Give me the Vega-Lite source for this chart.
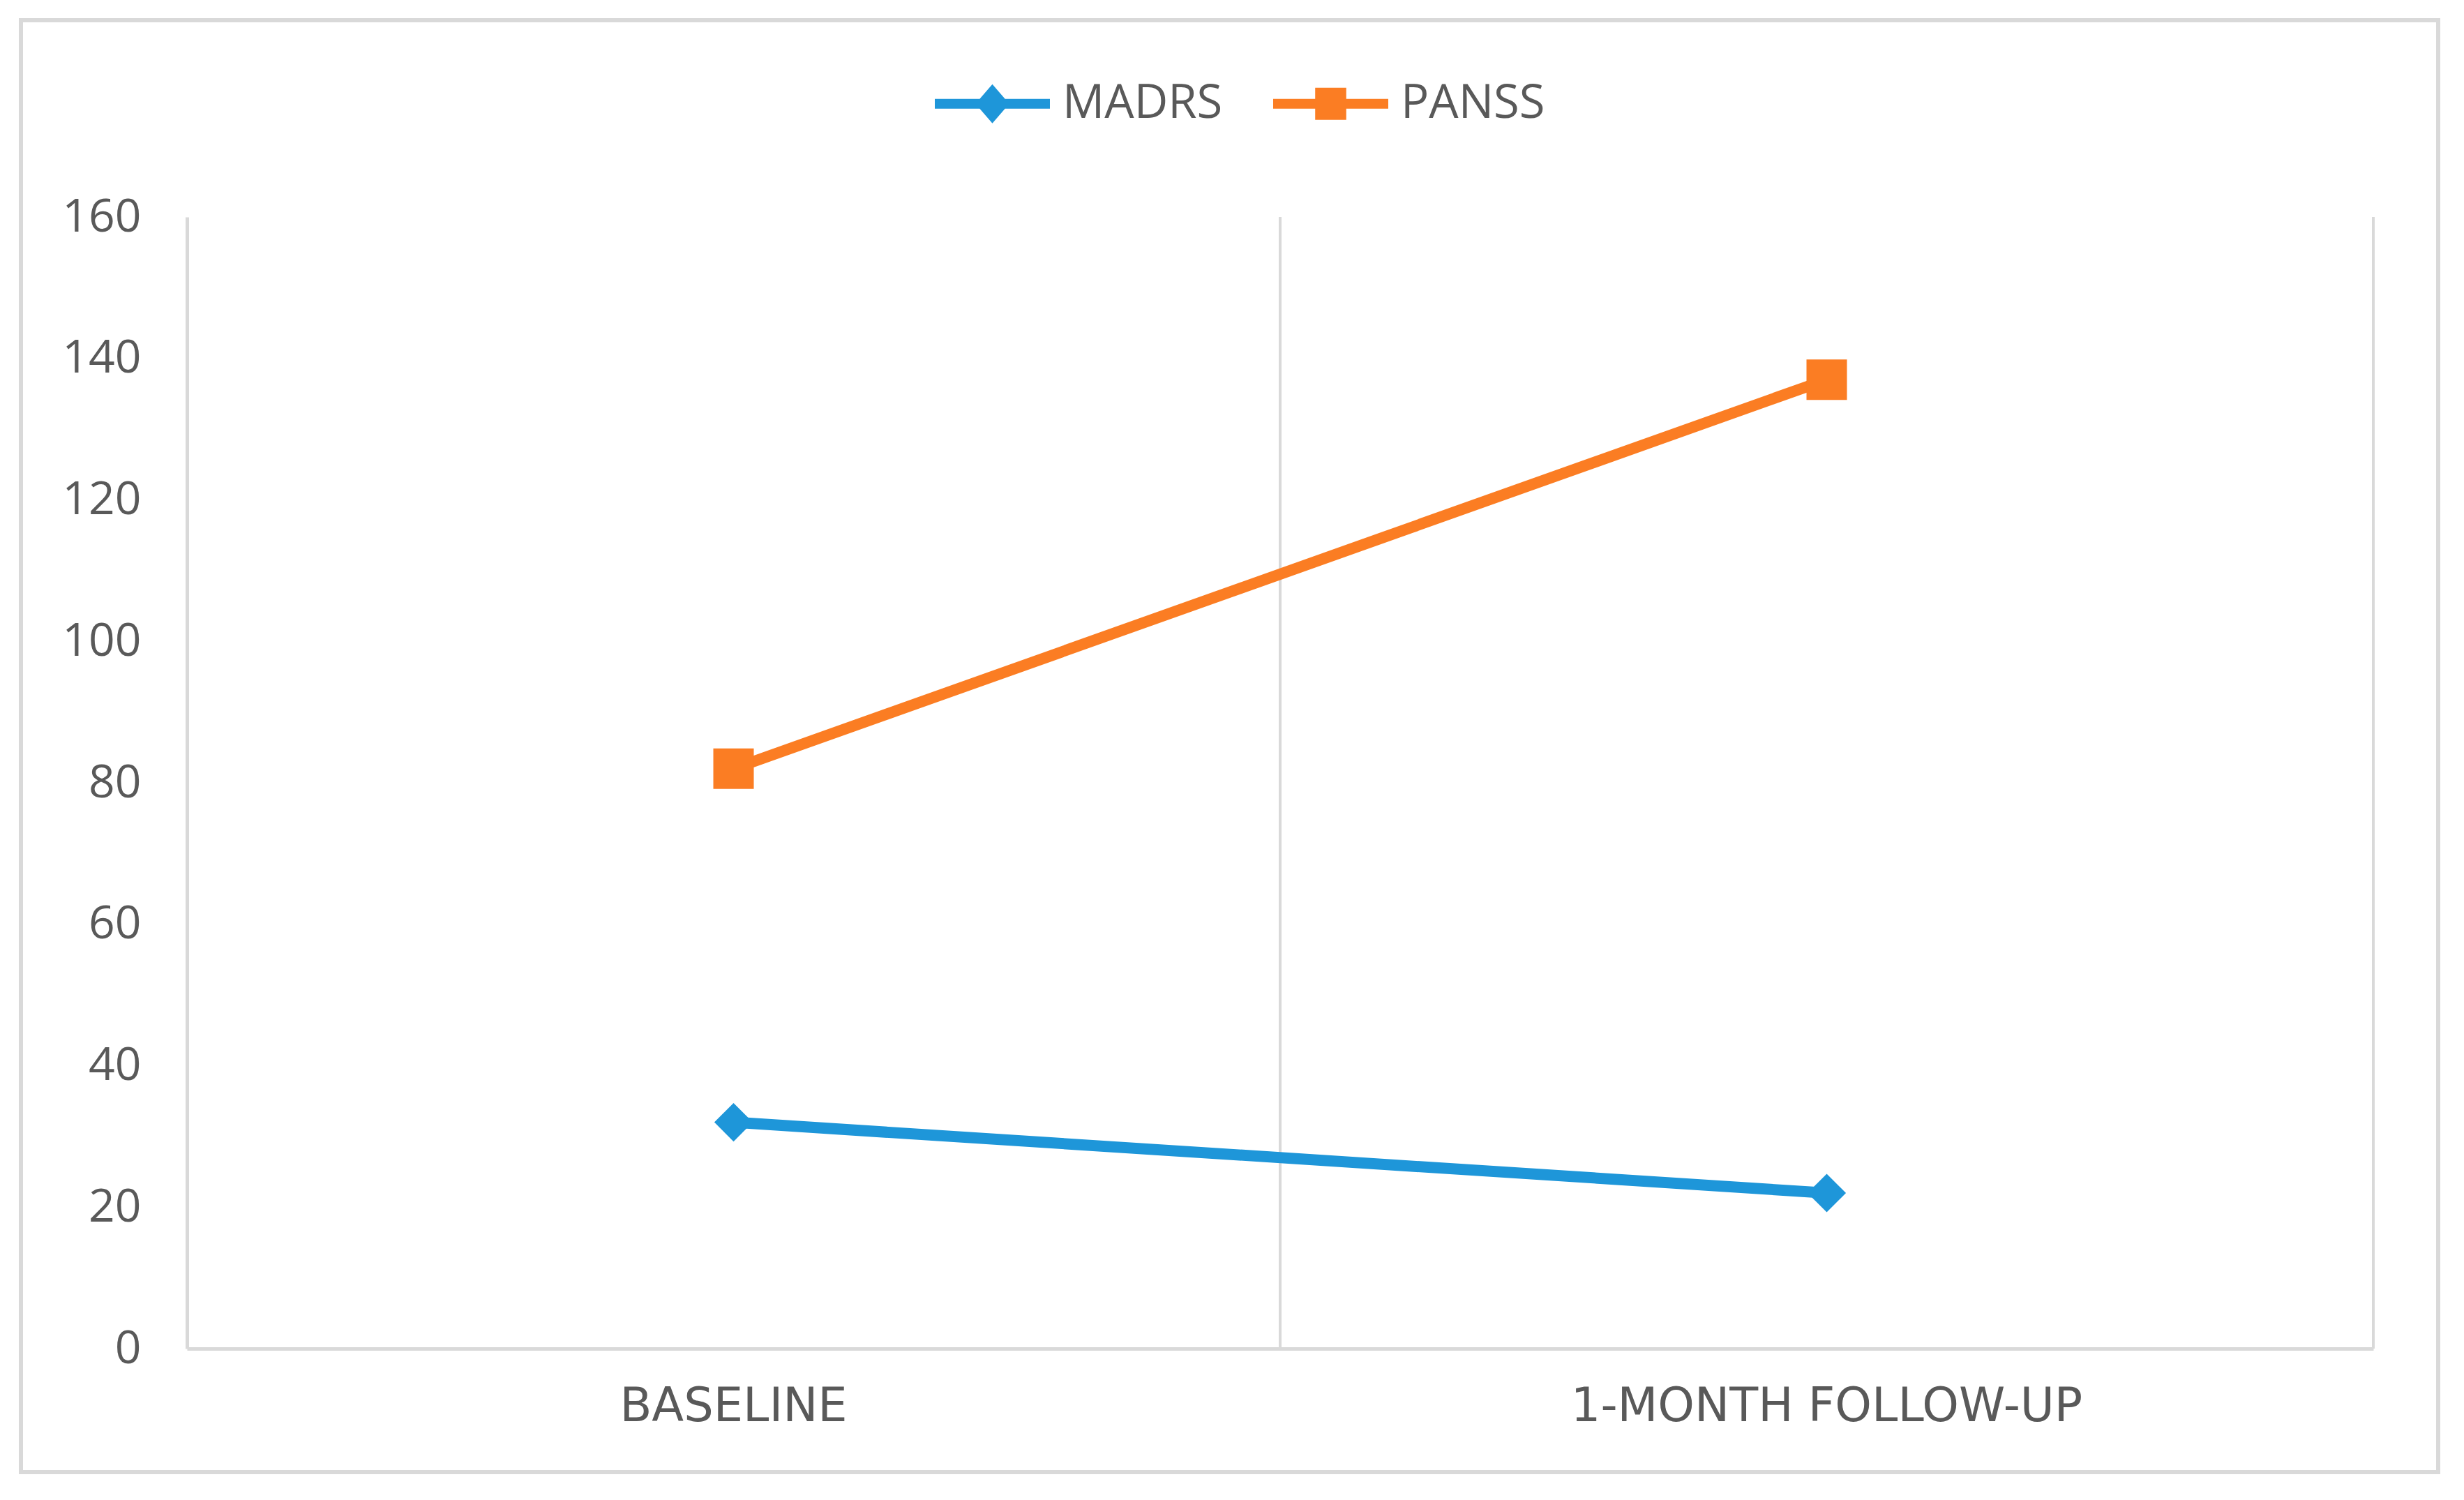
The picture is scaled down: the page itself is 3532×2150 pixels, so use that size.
{
  "$schema": "https://vega.github.io/schema/vega-lite/v6.json",
  "width": 3465,
  "height": 2081,
  "autosize": "none",
  "padding": {"left": 30, "top": 29, "right": 37, "bottom": 40},
  "background": "white",
  "config": {
    "view": {"stroke": "#d9d9d9", "strokeWidth": 6},
    "font": "Open Sans"
  },
  "data": {
    "values": [
      {"time": "BASELINE", "series": "MADRS", "score": 32},
      {"time": "1-MONTH FOLLOW-UP", "series": "MADRS", "score": 22},
      {"time": "BASELINE", "series": "PANSS", "score": 82},
      {"time": "1-MONTH FOLLOW-UP", "series": "PANSS", "score": 137}
    ]
  },
  "encoding": {
    "x": {
      "field": "time",
      "type": "nominal",
      "sort": ["BASELINE", "1-MONTH FOLLOW-UP"],
      "scale": {"type": "band", "range": [238, 3372], "paddingInner": 0, "paddingOuter": 0},
      "axis": {
        "title": null,
        "orient": "bottom",
        "offset": -177,
        "grid": false,
        "domainColor": "#d9d9d9",
        "domainWidth": 5,
        "ticks": false,
        "labelAngle": 0,
        "labelFont": "DejaVu Sans",
        "labelFontSize": 67,
        "labelColor": "#595959",
        "labelPadding": 50,
        "labelLimit": 2000
      }
    },
    "y": {
      "field": "score",
      "type": "quantitative",
      "scale": {"domain": [0, 160], "range": [1904, 282], "nice": false},
      "axis": {
        "title": null,
        "orient": "left",
        "offset": -238,
        "values": [0, 20, 40, 60, 80, 100, 120, 140, 160],
        "grid": false,
        "ticks": false,
        "domainColor": "#d9d9d9",
        "domainWidth": 5,
        "labelFont": "Open Sans",
        "labelFontSize": 66,
        "labelColor": "#595959",
        "labelPadding": 66,
        "labelLimit": 1000
      }
    },
    "color": {
      "field": "series",
      "type": "nominal",
      "scale": {"domain": ["MADRS", "PANSS"], "range": ["#1e96d9", "#fb7d23"]},
      "legend": {
        "orient": "none",
        "legendX": 1310,
        "legendY": 37,
        "direction": "horizontal",
        "title": null,
        "symbolSize": 27225,
        "labelFont": "Open Sans",
        "labelFontSize": 67,
        "labelColor": "#595959",
        "labelOffset": 18,
        "labelLimit": 1000,
        "columnPadding": 72,
        "padding": 0,
        "symbolStrokeWidth": 0,
        "encode": {
          "symbols": {
            "update": {
              "shape": {"signal": "datum.value === 'MADRS' ? 'M-1,-0.085L-0.22,-0.085L0,-0.34L0.22,-0.085L1,-0.085L1,0.085L0.22,0.085L0,0.34L-0.22,0.085L-1,0.085Z' : 'M-1,-0.085L-0.27,-0.085L-0.27,-0.28L0.27,-0.28L0.27,-0.085L1,-0.085L1,0.085L0.27,0.085L0.27,0.28L-0.27,0.28L-0.27,0.085L-1,0.085Z'"},
              "fill": {"signal": "scale('color', datum.value)"},
              "size": {"value": 27225},
              "opacity": {"value": 1},
              "strokeWidth": {"value": 0}
            }
          }
        }
      }
    }
  },
  "layer": [
    {
      "mark": {"type": "rule", "color": "#d9d9d9", "strokeWidth": 4},
      "encoding": {
        "x": {"field": "time", "type": "nominal", "bandPosition": 1},
        "y": {"datum": 0},
        "y2": {"datum": 160},
        "color": {"value": "#d9d9d9"}
      }
    },
    {
      "mark": {"type": "line", "strokeWidth": 16, "strokeCap": "round"}
    },
    {
      "transform": [{"filter": "datum.series === 'MADRS'"}],
      "mark": {"type": "point", "filled": true, "opacity": 1, "size": 3364, "strokeWidth": 0, "shape": "M-0.95,0L0,-0.95L0.95,0L0,0.95Z"}
    },
    {
      "transform": [{"filter": "datum.series === 'PANSS'"}],
      "mark": {"type": "point", "filled": true, "opacity": 1, "size": 3364, "strokeWidth": 0, "shape": "square"}
    }
  ]
}
